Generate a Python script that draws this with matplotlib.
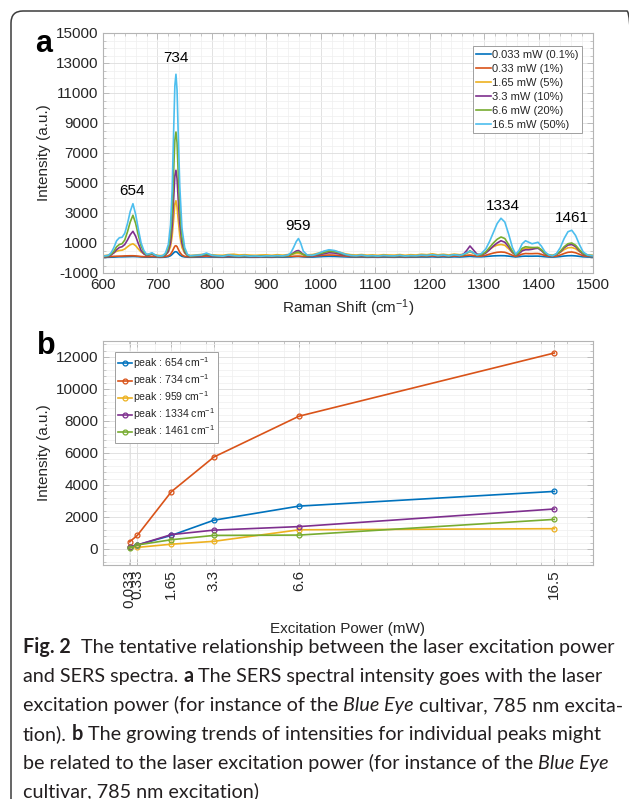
import matplotlib
matplotlib.use("Agg")
import matplotlib.pyplot as plt
from matplotlib.patches import FancyBboxPatch
from matplotlib.transforms import IdentityTransform
from matplotlib.ticker import MultipleLocator, FixedLocator

W, H = 629, 799

# ---- panel a: SERS spectra at six laser powers ----
shift = [
    600, 605, 610, 615, 620, 625, 630, 635, 640, 645, 650, 655, 660, 665, 670, 675, 680, 685, 690, 695, 700,
    705, 710, 715, 720, 724, 727, 730, 732, 734, 736, 738, 741, 745, 750, 755, 760,
    770, 780, 790, 800, 810, 820, 830, 840, 850, 860, 870, 880, 890, 900, 910, 920, 930, 940,
    945, 950, 955, 959, 963, 968, 975,
    985, 995, 1005, 1015, 1025, 1035, 1045, 1055, 1065, 1075, 1085, 1095, 1105, 1115, 1125, 1135, 1145, 1155,
    1165, 1175, 1185, 1195, 1205, 1215, 1225, 1235, 1245, 1255,
    1262, 1268, 1274, 1280, 1287, 1295, 1303, 1310, 1317, 1324, 1331, 1338, 1345, 1352, 1358,
    1364, 1370, 1376, 1382, 1388, 1394, 1399, 1405, 1412, 1419, 1426, 1433,
    1440, 1447, 1454, 1461, 1468, 1475, 1482, 1490, 1500,
]

spec_0033 = [
    40, 45, 50, 55, 60, 70, 80, 80, 85, 90, 95, 100, 95, 85, 70, 60, 55, 55, 60, 55, 50,
    45, 50, 60, 90, 150, 240, 350, 410, 420, 390, 310, 200, 110, 70, 55, 50,
    55, 60, 70, 60, 55, 50, 60, 55, 50, 55, 50, 50, 55, 55, 50, 60, 55, 65,
    70, 85, 95, 100, 90, 75, 60,
    60, 80, 100, 110, 105, 90, 75, 60, 55, 60, 50, 55, 50, 60, 55, 50, 60, 50,
    55, 55, 65, 60, 75, 55, 70, 55, 75, 65,
    80, 95, 110, 95, 80, 80, 100, 120, 140, 150, 155, 150, 125, 95, 70,
    90, 115, 125, 120, 120, 125, 125, 110, 85, 65, 60, 75,
    100, 130, 150, 155, 140, 110, 80, 65, 60,
]
spec_033 = [
    70, 80, 90, 100, 110, 120, 125, 130, 140, 145, 150, 150, 140, 120, 100, 90, 85, 90, 100, 90, 80,
    75, 80, 100, 150, 250, 420, 650, 790, 820, 760, 600, 380, 200, 110, 85, 80,
    90, 100, 120, 100, 90, 85, 100, 95, 85, 95, 90, 85, 90, 95, 85, 100, 95, 110,
    110, 115, 120, 120, 115, 105, 95,
    110, 150, 180, 200, 190, 160, 130, 100, 90, 100, 85, 95, 80, 100, 90, 85, 100, 80,
    95, 90, 110, 100, 130, 95, 120, 90, 130, 110,
    150, 180, 200, 170, 130, 130, 180, 260, 330, 380, 400, 380, 290, 180, 110,
    170, 260, 300, 290, 290, 300, 300, 250, 160, 110, 100, 130,
    200, 300, 380, 400, 350, 250, 150, 110, 100,
]
spec_165 = [
    150, 170, 200, 260, 350, 450, 500, 520, 600, 750, 880, 950, 820, 600, 400, 280, 220, 240, 250, 220, 180,
    160, 180, 230, 400, 750, 1450, 2700, 3600, 3820, 3400, 2600, 1500, 700, 320, 200, 170,
    200, 230, 260, 210, 190, 180, 230, 250, 200, 220, 190, 180, 200, 210, 180, 220, 190, 230,
    240, 270, 300, 300, 280, 240, 210,
    230, 320, 420, 500, 470, 380, 280, 220, 200, 230, 190, 210, 180, 220, 200, 190, 230, 180,
    220, 200, 250, 220, 280, 210, 250, 200, 260, 220,
    250, 320, 400, 330, 240, 250, 380, 580, 750, 860, 900, 850, 620, 350, 220,
    330, 550, 650, 640, 650, 680, 700, 560, 320, 210, 190, 260,
    380, 560, 680, 700, 620, 430, 280, 210, 190,
]
spec_33 = [
    100, 110, 130, 200, 350, 550, 700, 750, 900, 1200, 1550, 1780, 1450, 950, 500, 280, 160, 200, 250, 170, 120,
    110, 130, 200, 450, 1000, 2100, 4100, 5500, 5850, 5300, 4000, 2300, 1000, 380, 170, 120,
    130, 150, 200, 140, 120, 110, 150, 130, 110, 140, 120, 110, 120, 130, 110, 140, 130, 170,
    230, 350, 470, 500, 400, 230, 150,
    140, 200, 280, 350, 330, 260, 180, 140, 130, 150, 120, 140, 110, 140, 130, 120, 150, 110,
    140, 130, 160, 140, 180, 140, 160, 130, 180, 150,
    250, 500, 800, 550, 250, 200, 330, 550, 800, 1000, 1150, 1050, 750, 380, 180,
    280, 480, 550, 550, 580, 630, 650, 500, 260, 160, 140, 230,
    400, 680, 860, 900, 760, 480, 250, 150, 130,
]
spec_66 = [
    100, 120, 150, 250, 450, 750, 900, 950, 1200, 1750, 2400, 2850, 2300, 1500, 800, 400, 200, 230, 300, 200, 130,
    120, 140, 260, 650, 1500, 3100, 6000, 7900, 8400, 7700, 5800, 3300, 1400, 500, 200, 130,
    150, 180, 250, 170, 140, 130, 180, 150, 120, 150, 130, 120, 130, 140, 120, 150, 130, 160,
    220, 300, 380, 400, 330, 220, 160,
    170, 250, 350, 450, 420, 330, 220, 160, 140, 170, 130, 150, 120, 160, 140, 130, 160, 120,
    150, 140, 170, 150, 200, 150, 180, 140, 200, 160,
    220, 330, 480, 350, 200, 220, 400, 700, 1000, 1250, 1400, 1300, 900, 450, 200,
    350, 650, 750, 720, 700, 700, 700, 550, 300, 180, 150, 250,
    450, 750, 950, 1000, 850, 550, 300, 170, 140,
]
spec_165mw = [
    120, 150, 180, 350, 700, 1150, 1350, 1380, 1650, 2300, 3100, 3620, 2900, 1900, 1000, 500, 250, 280, 350, 220, 150,
    130, 160, 350, 900, 2200, 4500, 8800, 11500, 12250, 11200, 8500, 4800, 2000, 700, 250, 150,
    180, 200, 330, 180, 150, 120, 200, 160, 130, 170, 120, 140, 110, 150, 130, 160, 140, 200,
    350, 700, 1100, 1300, 1000, 450, 200,
    180, 300, 450, 550, 500, 380, 250, 170, 150, 190, 140, 160, 130, 170, 150, 140, 180, 130,
    160, 150, 190, 170, 220, 160, 200, 150, 220, 170,
    250, 350, 450, 350, 200, 300, 600, 1100, 1700, 2300, 2650, 2400, 1600, 700, 250,
    500, 950, 1150, 1050, 950, 1000, 1050, 800, 400, 200, 150, 300,
    700, 1300, 1750, 1850, 1500, 900, 400, 200, 150,
]
spectra = [spec_0033, spec_033, spec_165, spec_33, spec_66, spec_165mw]
spec_labels = ["0.033 mW (0.1%)", "0.33 mW (1%)", "1.65 mW (5%)",
               "3.3 mW (10%)", "6.6 mW (20%)", "16.5 mW (50%)"]
peak_pos = [654, 734, 959, 1334, 1461]
peak_text_y = [4450, 13300, 2150, 3500, 2700]

# ---- panel b: peak intensity vs power ----
power = [0.033, 0.33, 1.65, 3.3, 6.6, 16.5]
power_labels = ["0.033", "0.33", "1.65", "3.3", "6.6", "16.5"]
peak_654 = [150, 250, 850, 1800, 2680, 3600]
peak_734 = [450, 850, 3580, 5750, 8300, 12250]
peak_959 = [100, 100, 300, 480, 1200, 1270]
peak_1334 = [150, 250, 900, 1180, 1400, 2500]
peak_1461 = [50, 250, 580, 850, 870, 1850]
peak_series = [peak_654, peak_734, peak_959, peak_1334, peak_1461]
peak_labels = [r"peak : 654 cm$^{-1}$", r"peak : 734 cm$^{-1}$", r"peak : 959 cm$^{-1}$",
               r"peak : 1334 cm$^{-1}$", r"peak : 1461 cm$^{-1}$"]

MATLAB = ["#0072BD", "#D95319", "#EDB120", "#7E2F8E", "#77AC30", "#4DBEEE"]
TXT = "#262626"
SPINE = "#b4b4b4"

plt.rcParams.update({
    "font.family": ["Liberation Sans", "DejaVu Sans"],
    "mathtext.fontset": "custom",
    "mathtext.rm": "Liberation Sans",
    "mathtext.it": "Liberation Sans:italic",
    "mathtext.default": "regular",
    "axes.unicode_minus": False,
    "font.size": 11,
    "text.color": TXT,
    "axes.labelcolor": TXT,
    "xtick.color": SPINE,
    "ytick.color": SPINE,
    "xtick.labelcolor": TXT,
    "ytick.labelcolor": TXT,
    "xtick.direction": "in",
    "ytick.direction": "in",
    "xtick.top": True,
    "ytick.right": True,
    "xtick.labelsize": 11,
    "ytick.labelsize": 11,
})


def style_axes(ax):
    for s in ax.spines.values():
        s.set_color(SPINE)
        s.set_linewidth(0.8)
    ax.tick_params(which="major", length=4, width=0.6)
    ax.tick_params(which="minor", length=2, width=0.5)
    ax.grid(which="major", color="#dddddd", lw=0.6)
    ax.grid(which="minor", color="#efefef", lw=0.5)
    ax.set_axisbelow(True)


fig = plt.figure(figsize=(W / 100, H / 100), dpi=100)

# panel a
ax = fig.add_axes([103 / W, 1 - 273 / H, 490 / W, 240 / H])
for ys, lab, c in zip(spectra, spec_labels, MATLAB):
    ax.plot(shift, ys, color=c, lw=1.2, label=lab)
ax.set_xlim(600, 1500)
ax.set_ylim(-1000, 15000)
ax.set_xticks(range(600, 1501, 100))
ax.set_yticks(range(-1000, 15001, 2000))
ax.xaxis.set_minor_locator(MultipleLocator(20))
ax.yaxis.set_minor_locator(MultipleLocator(500))
style_axes(ax)
for p, ty in zip(peak_pos, peak_text_y):
    ax.text(p, ty, str(p), ha="center", va="center", fontsize=11, color="black")
ax.set_xlabel(r"Raman Shift (cm$^{-1}$)", fontsize=11, labelpad=4)
ax.set_ylabel("Intensity (a.u.)", fontsize=11, labelpad=3)
leg = ax.legend(loc="upper left", bbox_to_anchor=(0.755, 0.945), fontsize=8,
                handlelength=1.3, handletextpad=0.1, labelspacing=0.36,
                borderpad=0.3, borderaxespad=0, fancybox=False, framealpha=1)
leg.get_frame().set_edgecolor("#a0a0a0")
leg.get_frame().set_linewidth(0.7)

# panel b
bx = fig.add_axes([103 / W, 1 - 565 / H, 490 / W, 224 / H])
for ys, lab, c in zip(peak_series, peak_labels, MATLAB):
    bx.plot(power, ys, color=c, lw=1.2, marker="o", ms=3.5, mfc="none", mew=0.9, label=lab)
bx.set_xlim(-1, 18)
bx.set_ylim(-1000, 13000)
bx.xaxis.set_major_locator(FixedLocator(power))
bx.set_xticklabels(power_labels, rotation=90)
bx.set_yticks(range(0, 12001, 2000))
bx.xaxis.set_minor_locator(MultipleLocator(1))
bx.yaxis.set_minor_locator(MultipleLocator(400))
style_axes(bx)
bx.set_xlabel("Excitation Power (mW)", fontsize=11, labelpad=10)
bx.set_ylabel("Intensity (a.u.)", fontsize=11, labelpad=3)
leg = bx.legend(loc="upper left", bbox_to_anchor=(0.025, 0.95), fontsize=7.6,
                handlelength=1.3, handletextpad=0.1, labelspacing=0.12,
                borderpad=0.3, borderaxespad=0, fancybox=False, framealpha=1)
leg.get_frame().set_edgecolor("#a0a0a0")
leg.get_frame().set_linewidth(0.7)

# panel letters
fig.text(35 / W, 1 - 52 / H, "a", fontsize=22, fontweight="bold", color="black", va="baseline")
fig.text(37 / W, 1 - 354 / H, "b", fontsize=22, fontweight="bold", color="black", va="baseline")

# outer rounded frame, running off the right and bottom edges
frame = FancyBboxPatch((11, -30), 628, H - 11 + 30, boxstyle="round,pad=0,rounding_size=12",
                       transform=IdentityTransform(), fill=False, ec="#3c3c3c", lw=1.1)
fig.add_artist(frame)

# caption with bold / italic runs
caption = [
    [("Fig. 2", "bold"), ("  ", None), ("The tentative relationship between the laser excitation power", "normal")],
    [("and SERS spectra.", "normal"), (" ", None), ("a", "bold"), (" ", None),
     ("The SERS spectral intensity goes with the laser", "normal")],
    [("excitation power (for instance of the", "normal"), (" ", None), ("Blue Eye", "italic"), (" ", None),
     ("cultivar, 785 nm excita-", "normal")],
    [("tion).", "normal"), (" ", None), ("b", "bold"), (" ", None),
     ("The growing trends of intensities for individual peaks might", "normal")],
    [("be related to the laser excitation power (for instance of the", "normal"), (" ", None),
     ("Blue Eye", "italic")],
    [("cultivar, 785 nm excitation)", "normal")],
]
cap_base = [653, 682, 711, 740, 769, 797]
CAP_FONT = "Lato"
CAP_SIZE = 14.2
CAP_COLOR = "#231f20"

renderer = fig.canvas.get_renderer()


def text_w(s, **kw):
    t = fig.text(0, 0, s, fontsize=CAP_SIZE, family=CAP_FONT, **kw)
    w = t.get_window_extent(renderer).width
    t.remove()
    return w


space_w = text_w("x x") - text_w("xx")

for runs, yb in zip(caption, cap_base):
    x = 23
    for s, kind in runs:
        if kind is None:
            x += space_w * len(s)
            continue
        kw = {}
        if kind == "bold":
            kw = {"fontweight": "bold"}
        elif kind == "italic":
            kw = {"fontstyle": "italic"}
        t = fig.text(x / W, 1 - yb / H, s, fontsize=CAP_SIZE, family=CAP_FONT,
                     color=CAP_COLOR, va="baseline", ha="left", **kw)
        x += t.get_window_extent(renderer).width

fig.savefig("out.png", dpi=100)
